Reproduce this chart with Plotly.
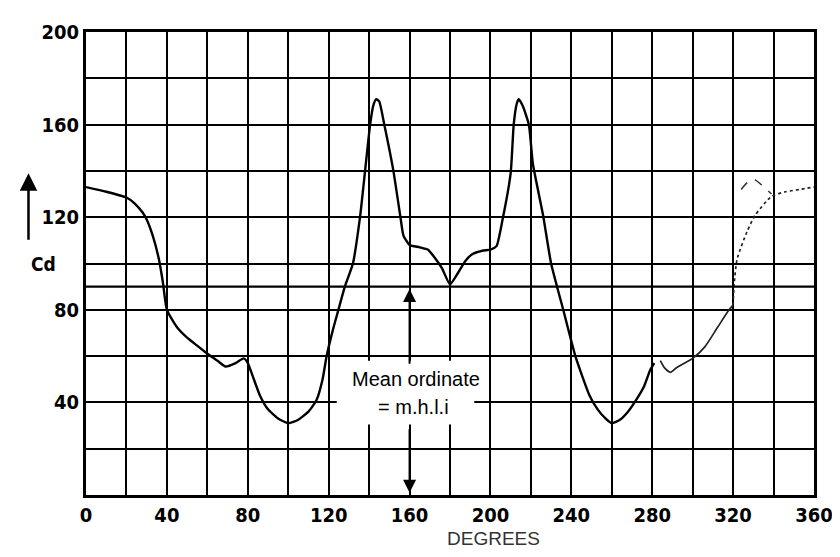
import plotly.graph_objects as go

# ---- data ----
main_deg = [0, 10, 20, 24, 28, 30, 33, 36, 38, 40, 45, 50, 55, 60, 65, 69, 74, 78,
            80, 83, 86, 90, 95, 100, 105, 110, 114, 117, 119, 122, 124.5, 128, 132,
            135.5, 138, 140.5, 142, 143.5, 145, 147.5, 152, 155.5, 157, 160, 165, 169,
            172, 176, 180, 184, 187.5, 191, 196, 200, 203, 206, 210, 211.5, 213, 214,
            216, 219, 221, 226, 230, 236, 242, 249, 253, 257, 260, 264, 268, 272, 276,
            279, 281]
main_cd = [133, 131, 128.5, 126, 122, 119, 112, 102, 92, 80, 72.5, 68, 64.5, 61, 58, 55.5, 57, 59,
           57, 50, 43, 37, 33, 31, 32.5, 36, 41, 50, 60, 71, 79, 90, 100,
           120, 140, 160, 168, 171, 170, 160, 140, 120, 112, 108, 107, 106,
           103, 98, 91, 96, 101, 104, 105.5, 106, 107.5, 119, 139, 160, 169, 171,
           168, 160, 143, 121, 100, 80, 60, 43, 37, 33, 31, 32.5, 36, 41, 47,
           54, 57]

faint_deg = [284, 286, 289, 292, 296, 300, 306, 312, 318, 320]
faint_cd = [58, 55, 53, 55, 57, 59, 64, 72, 80, 82]

dotted_deg = [320, 320.5, 322, 327, 331, 339, 346, 353, 360]
dotted_cd = [82, 91, 102, 114, 121, 129, 131, 132, 133]

hump_deg = [324, 327, 330, 334, 339]
hump_cd = [132, 135, 136.5, 134, 130]

mean_ordinate = 90
mean_label_deg = 163

x_tick_vals = [0, 20, 40, 60, 80, 100, 120, 140, 160, 180, 200, 220, 240, 260, 280, 300, 320, 340, 360]
x_tick_text = ["0", "", "40", "", "80", "", "120", "", "160", "", "200", "", "240", "", "280", "", "320", "", "360"]
y_tick_vals = [0, 20, 40, 60, 80, 100, 120, 140, 160, 180, 200]
y_tick_text = ["", "", "40", "", "80", "", "120", "", "160", "", "200"]

TICKFONT = dict(family="DejaVu Sans Condensed, Liberation Sans, Arial", size=20, color="black", weight="bold")
TEXTFONT = dict(family="Liberation Sans, Arial", size=20, color="black")

fig = go.Figure()
fig.add_trace(go.Scatter(x=main_deg, y=main_cd, mode="lines",
                         line=dict(color="black", width=2.4, shape="spline", smoothing=0.5),
                         hoverinfo="skip", showlegend=False))
fig.add_trace(go.Scatter(x=faint_deg, y=faint_cd, mode="lines",
                         line=dict(color="#222", width=1.7, shape="spline", smoothing=0.6),
                         hoverinfo="skip", showlegend=False))
fig.add_trace(go.Scatter(x=dotted_deg, y=dotted_cd, mode="lines",
                         line=dict(color="#222", width=1.7, dash="dot", shape="spline", smoothing=0.6),
                         hoverinfo="skip", showlegend=False))
fig.add_trace(go.Scatter(x=hump_deg, y=hump_cd, mode="lines",
                         line=dict(color="#333", width=1.5, dash="dash", shape="spline", smoothing=0.8),
                         hoverinfo="skip", showlegend=False))

# mean ordinate line
fig.add_shape(type="line", xref="x", yref="y", x0=0, x1=360, y0=mean_ordinate, y1=mean_ordinate,
              line=dict(color="black", width=2.4), layer="above")

# white box behind the label
fig.add_shape(type="rect", xref="x", yref="y", x0=124, x1=192, y0=30.5, y1=58,
              fillcolor="white", line=dict(width=0), layer="above")

fig.add_annotation(x=mean_label_deg, y=50, xref="x", yref="y", text="Mean ordinate",
                   showarrow=False, font=TEXTFONT)
fig.add_annotation(x=mean_label_deg - 1, y=38, xref="x", yref="y", text="= m.h.l.i",
                   showarrow=False, font=TEXTFONT)

# arrows at 160 degrees
fig.add_annotation(x=160, y=mean_ordinate - 1, xref="x", yref="y", ax=160, ay=56,
                   axref="x", ayref="y", text="", showarrow=True, arrowhead=2,
                   arrowsize=1.3, arrowwidth=2, arrowcolor="black")
fig.add_annotation(x=160, y=1, xref="x", yref="y", ax=160, ay=29,
                   axref="x", ayref="y", text="", showarrow=True, arrowhead=2,
                   arrowsize=1.3, arrowwidth=2, arrowcolor="black")

# Cd label with arrow
fig.add_annotation(x=-0.078, y=0.50, xref="paper", yref="paper", text="Cd",
                   showarrow=False, font=dict(family="DejaVu Sans Condensed, Liberation Sans, Arial",
                                              size=19, color="black", weight="bold"))
fig.add_annotation(x=-0.079, y=0.695, xref="paper", yref="paper", text="",
                   showarrow=True, ax=0, ay=68, arrowhead=2, arrowsize=1.4,
                   arrowwidth=2.5, arrowcolor="black")

# x axis title
fig.add_annotation(x=0.56, y=-0.12, xref="paper", yref="paper", text="DEGREES",
                   showarrow=False, font=dict(family="Liberation Sans, Arial", size=19, color="#333"))

fig.update_xaxes(range=[0, 360], tickvals=x_tick_vals, ticktext=x_tick_text,
                 showgrid=True, gridcolor="black", gridwidth=2, zeroline=False,
                 showline=True, linecolor="black", linewidth=3, mirror=True,
                 ticks="", tickfont=TICKFONT, fixedrange=True)
fig.update_yaxes(range=[0, 200], tickvals=y_tick_vals, ticktext=y_tick_text,
                 showgrid=True, gridcolor="black", gridwidth=2, zeroline=False,
                 showline=True, linecolor="black", linewidth=3, mirror=True,
                 ticks="", tickfont=TICKFONT, fixedrange=True)

fig.update_layout(width=840, height=557, margin=dict(l=78, r=34, t=24, b=70),
                  paper_bgcolor="white", plot_bgcolor="white", showlegend=False)

fig.write_html("out.html")
